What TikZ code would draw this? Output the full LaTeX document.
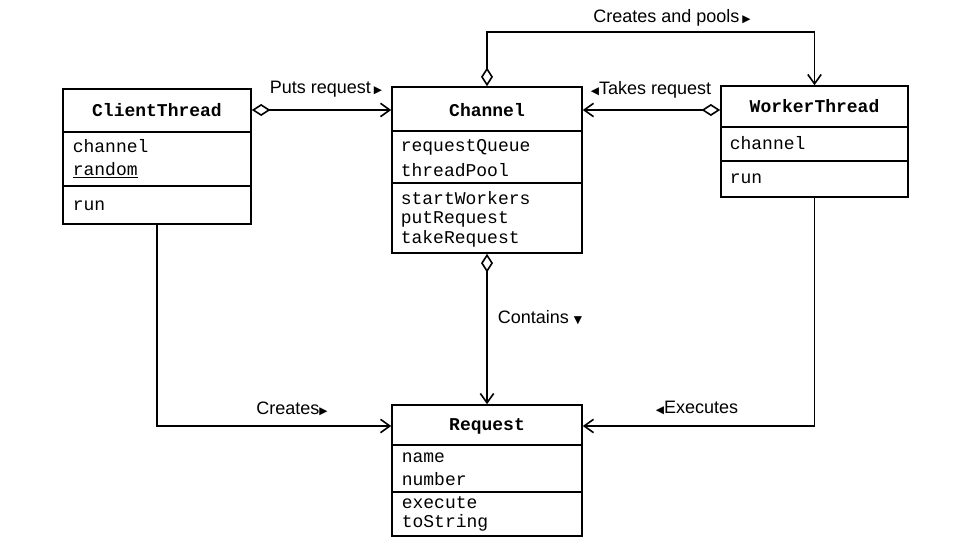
\documentclass[tikz,border=0pt]{standalone}
\usepackage{fontspec}
\usetikzlibrary{arrows.meta}
\newfontfamily\lmono{Liberation Mono}
\newfontfamily\lsans{Liberation Sans}
\newfontfamily\djv{DejaVu Sans}
\newcommand{\rtri}{{\djv\fontsize{8pt}{8pt}\selectfont ▶}}
\newcommand{\ltri}{{\djv\fontsize{8pt}{8pt}\selectfont ◀}}
\newcommand{\dtri}{{\djv\fontsize{8pt}{8pt}\selectfont ▼}}
\begin{document}
\begin{tikzpicture}[x=0.75pt,y=-0.75pt,
  line width=1.2pt,
  classbox/.style={draw, rectangle, inner sep=0pt},
  cname/.style={font=\lmono\bfseries\fontsize{13.5pt}{15pt}\selectfont, inner sep=0pt},
  member/.style={font=\lmono\fontsize{13.5pt}{15pt}\selectfont, anchor=west, inner sep=0pt},
  lbl/.style={font=\lsans\fontsize{13.5pt}{15pt}\selectfont, inner sep=0pt},
  aggr/.style={{Diamond[open,fill=white,length=14pt,width=9pt]}-{Straight Barb[length=7pt,width=10pt]}},
  dep/.style={-{Straight Barb[length=7pt,width=10pt]}}
]
\useasboundingbox (0,0) rectangle (966,559);

% ClientThread
\node[classbox, minimum width=141pt, minimum height=101.25pt] (ct) at (157,156.5) {};
\draw (ct.west |- 0,132) -- (ct.east |- 0,132);
\draw (ct.west |- 0,186) -- (ct.east |- 0,186);
\node[cname] (ctn) at (157,110) {ClientThread};
\node[member] (ct1) at (72,146) {channel};
\node[member] (ct2) at (72,170) {\underline{random}};
\node[member] (ct3) at (72,206) {run};

% Channel
\node[classbox, minimum width=142.5pt, minimum height=124.5pt] (ch) at (487,170) {};
\draw (ch.west |- 0,131) -- (ch.east |- 0,131);
\draw (ch.west |- 0,183) -- (ch.east |- 0,183);
\node[cname] (chn) at (487,110) {Channel};
\node[member] (ch1) at (400,147) {requestQueue};
\node[member] (ch2) at (400,170) {threadPool};
\node[member] (ch3) at (400,198) {startWorkers};
\node[member] (ch4) at (400,219) {putRequest};
\node[member] (ch5) at (400,239) {takeRequest};

% WorkerThread
\node[classbox, minimum width=140.25pt, minimum height=83.25pt] (wt) at (814.5,141.5) {};
\draw (wt.west |- 0,127) -- (wt.east |- 0,127);
\draw (wt.west |- 0,161) -- (wt.east |- 0,161);
\node[cname] (wtn) at (814.5,106) {WorkerThread};
\node[member] (wt1) at (729,143) {channel};
\node[member] (wt2) at (729,179) {run};

% Request
\node[classbox, minimum width=142.5pt, minimum height=98.25pt] (rq) at (487,470.5) {};
\draw (rq.west |- 0,445) -- (rq.east |- 0,445);
\draw (rq.west |- 0,492) -- (rq.east |- 0,492);
\node[cname] (rqn) at (487,426) {Request};
\node[member] (rq1) at (401,458) {name};
\node[member] (rq2) at (401,479) {number};
\node[member] (rq3) at (401,503) {execute};
\node[member] (rq4) at (401,523) {toString};

% connectors
\coordinate (cpa) at (487,32);
\coordinate (cpb) at (814.5,32);
\draw[aggr] (ct.east |- 0,110) -- (ch.west |- 0,110);
\draw[aggr] (wt.west |- 0,110) -- (ch.east |- 0,110);
\draw[aggr] (ch.north) -- (cpa) -- (cpb) -- (wt.north);
\draw[aggr] (ch.south) -- (rq.north);
\draw[dep] (ct.south) |- (rq.west |- 0,426);
\draw[dep] (wt.south) |- (rq.east |- 0,426);

% labels
\node[lbl] (l1) at (326,89) {Puts request\,\rtri};
\node[lbl] (l2) at (672,18) {Creates and pools\,\rtri};
\node[lbl] (l3) at (651,90) {\ltri Takes request};
\node[lbl, anchor=west] (l4) at (497,318) {Contains \dtri};
\node[lbl] (l5) at (292,409) {Creates\rtri};
\node[lbl] (l6) at (697,408) {\ltri Executes};
\end{tikzpicture}
\end{document}
